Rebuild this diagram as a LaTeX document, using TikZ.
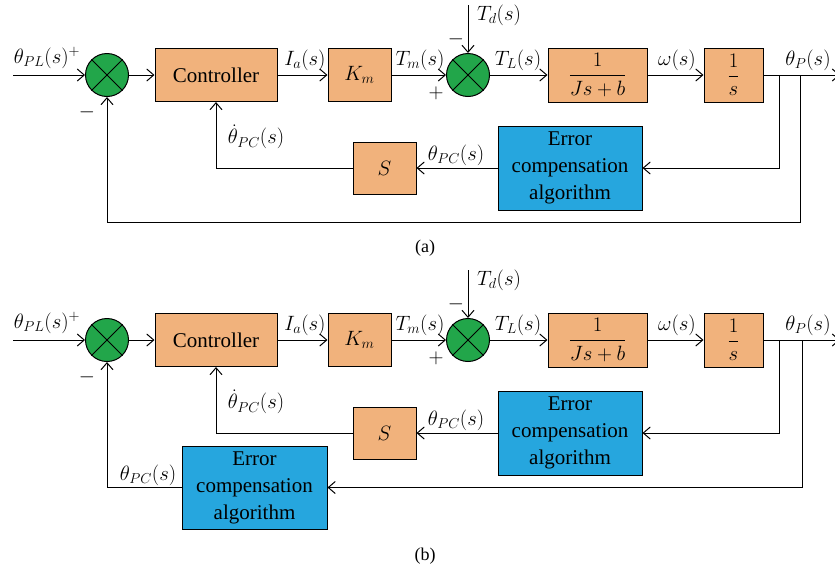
\documentclass[tikz,border=0pt]{standalone}
\usepackage{amsmath}
\usepackage{fontspec}
\setmainfont{Liberation Serif}
\usetikzlibrary{arrows.meta}
\definecolor{boxor}{RGB}{241,178,124}
\definecolor{boxbl}{RGB}{38,166,222}
\definecolor{sumgr}{RGB}{34,166,74}
\begin{document}
\begin{tikzpicture}[x=1pt,y=-1pt,line width=1pt,
  font=\fontsize{21}{27}\selectfont,
  arr/.style={-{Straight Barb[length=7pt,width=12pt]}},
  blk/.style n args={2}{draw,fill=boxor,minimum width=#1,minimum height=#2,inner sep=0pt},
  errb/.style={draw,fill=boxbl,minimum width=144pt,minimum height=84pt,inner sep=0pt,align=center},
  sumc/.style={circle,draw,fill=sumgr,minimum size=43pt,inner sep=0pt},
  lbl/.style={inner sep=0pt,font=\fontsize{21.5}{26}\selectfont}]
\useasboundingbox (0,0) rectangle (835,571);
\foreach \p/\dy/\bx in {a/0/800,b/265/802}{
  \node[sumc] (s1\p) at (107,75+\dy) {};
  \draw (s1\p.north west) -- (s1\p.south east) (s1\p.north east) -- (s1\p.south west);
  \node[blk={122pt}{53pt}] (ctrl\p) at (216,75+\dy) {Controller};
  \node[blk={63pt}{53pt}] (km\p) at (359.5,75+\dy) {$K_m$};
  \node[sumc] (s2\p) at (468,75+\dy) {};
  \draw (s2\p.north west) -- (s2\p.south east) (s2\p.north east) -- (s2\p.south west);
  \node[blk={99pt}{54pt}] (g1\p) at (597.5,75+\dy) {$\dfrac{\;\;1\;\;}{Js+b}$};
  \node[blk={59pt}{54pt}] (g2\p) at (733.5,75+\dy) {$\dfrac{1}{s}$};
  \node[errb] (err\p) at (570,168+\dy) {Error\\compensation\\algorithm};
  \node[blk={63pt}{52pt}] (sb\p) at (384.5,168+\dy) {$S$};
  \coordinate (in\p) at (13,75+\dy);
  \coordinate (td\p) at (468,5+\dy);
  \coordinate (out\p) at (840,75+\dy);
  \coordinate (br1\p) at (779,75+\dy);
  \coordinate (br2\p) at (\bx,75+\dy);
  % connectors
  \draw[arr] (in\p) -- (s1\p.west);
  \draw[arr] (s1\p.east) -- (ctrl\p.west);
  \draw[arr] (ctrl\p.east) -- (km\p.west);
  \draw[arr] (km\p.east) -- (s2\p.west);
  \draw[arr] (td\p) -- (s2\p.north);
  \draw[arr] (s2\p.east) -- (g1\p.west);
  \draw[arr] (g1\p.east) -- (g2\p.west);
  \draw[arr] (g2\p.east) -- (out\p);
  \draw[arr] (br1\p) |- (err\p.east);
  \draw[arr] (err\p.west) -- (sb\p.east);
  \draw[arr] (sb\p.west) -| (ctrl\p.south);
  % labels
  \node[lbl] (lpl\p) at (47,58+\dy) {$\theta_{PL}(s)^{+}$};
  \node[lbl] (lm1\p) at (87,112+\dy) {$-$};
  \node[lbl] (lia\p) at (305,60+\dy) {$I_a(s)$};
  \node[lbl] (ltm\p) at (420,60+\dy) {$T_m(s)$};
  \node[lbl] (ltd\p) at (499,15+\dy) {$T_d(s)$};
  \node[lbl] (lm2\p) at (456,39+\dy) {$-$};
  \node[lbl] (lp2\p) at (436,93+\dy) {$+$};
  \node[lbl] (ltl\p) at (518,60+\dy) {$T_L(s)$};
  \node[lbl] (lw\p) at (677,60+\dy) {$\omega(s)$};
  \node[lbl] (lp\p) at (808,60+\dy) {$\theta_P(s)$};
  \node[lbl] (lpc\p) at (456,155+\dy) {$\theta_{PC}(s)$};
  \node[lbl] (ldpc\p) at (256,137+\dy) {$\dot{\theta}_{PC}(s)$};
}
% (a) outer loop
\draw[arr] (br2a) -- ++(0,147) -| (s1a.south);
% (b) second compensation block
\node[errb,minimum width=145pt,minimum height=83pt] (err2b) at (254.5,487.5) {Error\\compensation\\algorithm};
\draw[arr] (br2b) |- (err2b.east);
\draw[arr] (err2b.west) -| (s1b.south);
\node[lbl] (lpc2b) at (148,475) {$\theta_{PC}(s)$};
% captions
\node[font=\fontsize{18}{20}\selectfont] (capa) at (425,248) {(a)};
\node[font=\fontsize{18}{20}\selectfont] (capb) at (425,556) {(b)};
\end{tikzpicture}
\end{document}
